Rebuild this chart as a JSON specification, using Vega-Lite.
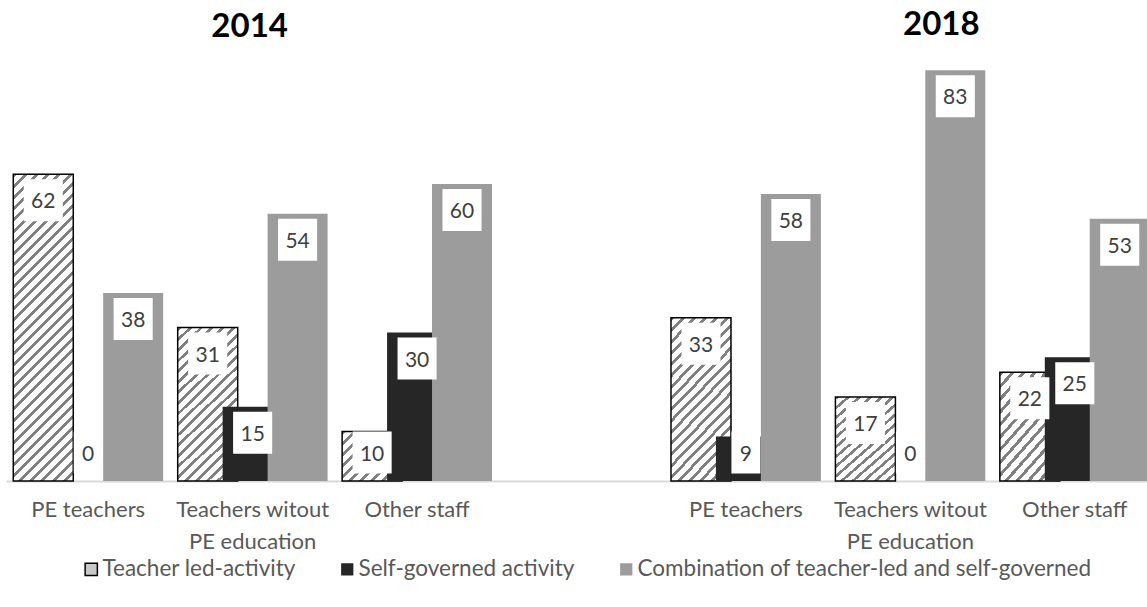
{
  "$schema": "https://vega.github.io/schema/vega-lite/v6.json",
  "autosize": {"type": "none"},
  "width": 1141,
  "height": 480,
  "padding": {"left": 6, "top": 1, "right": 0, "bottom": 126},
  "background": "white",
  "config": {"view": {"stroke": null}, "font": "Lato"},
  "data": {
    "values": [
      {"year": "2014", "group": "PE teachers", "series": "Teacher led-activity", "value": 62},
      {"year": "2014", "group": "PE teachers", "series": "Self-governed activity", "value": 0},
      {"year": "2014", "group": "PE teachers", "series": "Combination of teacher-led and self-governed", "value": 38},
      {"year": "2014", "group": "Teachers witout PE education", "series": "Teacher led-activity", "value": 31},
      {"year": "2014", "group": "Teachers witout PE education", "series": "Self-governed activity", "value": 15},
      {"year": "2014", "group": "Teachers witout PE education", "series": "Combination of teacher-led and self-governed", "value": 54},
      {"year": "2014", "group": "Other staff", "series": "Teacher led-activity", "value": 10},
      {"year": "2014", "group": "Other staff", "series": "Self-governed activity", "value": 30},
      {"year": "2014", "group": "Other staff", "series": "Combination of teacher-led and self-governed", "value": 60},
      {"year": "2018", "group": "PE teachers", "series": "Teacher led-activity", "value": 33},
      {"year": "2018", "group": "PE teachers", "series": "Self-governed activity", "value": 9},
      {"year": "2018", "group": "PE teachers", "series": "Combination of teacher-led and self-governed", "value": 58},
      {"year": "2018", "group": "Teachers witout PE education", "series": "Teacher led-activity", "value": 17},
      {"year": "2018", "group": "Teachers witout PE education", "series": "Self-governed activity", "value": 0},
      {"year": "2018", "group": "Teachers witout PE education", "series": "Combination of teacher-led and self-governed", "value": 83},
      {"year": "2018", "group": "Other staff", "series": "Teacher led-activity", "value": 22},
      {"year": "2018", "group": "Other staff", "series": "Self-governed activity", "value": 25},
      {"year": "2018", "group": "Other staff", "series": "Combination of teacher-led and self-governed", "value": 53}
    ]
  },
  "transform": [
    {"calculate": "datum.year + ' ' + datum.group", "as": "cat"},
    {"calculate": "max(datum.value, 11)", "as": "ly"}
  ],
  "layer": [
    {
      "mark": {"type": "bar", "width": 60, "strokeWidth": 1.5},
      "encoding": {
        "x": {
          "field": "cat",
          "type": "nominal",
          "sort": null,
          "scale": {
            "domain": ["2014 PE teachers", "2014 Teachers witout PE education", "2014 Other staff", " ", "2018 PE teachers", "2018 Teachers witout PE education", "2018 Other staff"],
            "range": [0, 1151],
            "paddingInner": 0.18,
            "paddingOuter": 0.09
          },
          "axis": {
            "title": null,
            "labelAngle": 0,
            "ticks": false,
            "domainColor": "#d9d9d9",
            "domainWidth": 2,
            "labelFont": "Lato",
            "labelFontSize": 22,
            "labelColor": "#595959",
            "labelPadding": 18,
            "labelLineHeight": 32,
            "labelOverlap": false,
            "labelLimit": 400,
            "labelExpr": "datum.value == ' ' ? '' : (indexof(datum.value, 'witout') > 0 ? ['Teachers witout', 'PE education'] : substring(datum.value, 5))"
          }
        },
        "xOffset": {
          "field": "series",
          "type": "nominal",
          "scale": {
            "domain": ["Teacher led-activity", "Self-governed activity", "Combination of teacher-led and self-governed"],
            "paddingInner": 0,
            "paddingOuter": 0
          }
        },
        "y": {
          "field": "value",
          "type": "quantitative",
          "scale": {"domain": [0, 97], "nice": false, "zero": true},
          "axis": null
        },
        "fill": {
          "condition": [
            {"test": "datum.series == 'Teacher led-activity' && datum.value == 62", "value": {"gradient": "linear", "x1": 0, "y1": 0, "x2": 0.2252, "y2": 1.1515, "stops": [
              {"offset": 0, "color": "#808080"}, {"offset": 0.0109, "color": "#808080"}, {"offset": 0.0109, "color": "#ffffff"}, {"offset": 0.0303, "color": "#ffffff"},
              {"offset": 0.0303, "color": "#808080"}, {"offset": 0.0412, "color": "#808080"}, {"offset": 0.0412, "color": "#ffffff"}, {"offset": 0.0606, "color": "#ffffff"},
              {"offset": 0.0606, "color": "#808080"}, {"offset": 0.0715, "color": "#808080"}, {"offset": 0.0715, "color": "#ffffff"}, {"offset": 0.0909, "color": "#ffffff"},
              {"offset": 0.0909, "color": "#808080"}, {"offset": 0.1018, "color": "#808080"}, {"offset": 0.1018, "color": "#ffffff"}, {"offset": 0.1212, "color": "#ffffff"},
              {"offset": 0.1212, "color": "#808080"}, {"offset": 0.1321, "color": "#808080"}, {"offset": 0.1321, "color": "#ffffff"}, {"offset": 0.1515, "color": "#ffffff"},
              {"offset": 0.1515, "color": "#808080"}, {"offset": 0.1624, "color": "#808080"}, {"offset": 0.1624, "color": "#ffffff"}, {"offset": 0.1818, "color": "#ffffff"},
              {"offset": 0.1818, "color": "#808080"}, {"offset": 0.1927, "color": "#808080"}, {"offset": 0.1927, "color": "#ffffff"}, {"offset": 0.2121, "color": "#ffffff"},
              {"offset": 0.2121, "color": "#808080"}, {"offset": 0.2230, "color": "#808080"}, {"offset": 0.2230, "color": "#ffffff"}, {"offset": 0.2424, "color": "#ffffff"},
              {"offset": 0.2424, "color": "#808080"}, {"offset": 0.2533, "color": "#808080"}, {"offset": 0.2533, "color": "#ffffff"}, {"offset": 0.2727, "color": "#ffffff"},
              {"offset": 0.2727, "color": "#808080"}, {"offset": 0.2836, "color": "#808080"}, {"offset": 0.2836, "color": "#ffffff"}, {"offset": 0.3030, "color": "#ffffff"},
              {"offset": 0.3030, "color": "#808080"}, {"offset": 0.3139, "color": "#808080"}, {"offset": 0.3139, "color": "#ffffff"}, {"offset": 0.3333, "color": "#ffffff"},
              {"offset": 0.3333, "color": "#808080"}, {"offset": 0.3442, "color": "#808080"}, {"offset": 0.3442, "color": "#ffffff"}, {"offset": 0.3636, "color": "#ffffff"},
              {"offset": 0.3636, "color": "#808080"}, {"offset": 0.3745, "color": "#808080"}, {"offset": 0.3745, "color": "#ffffff"}, {"offset": 0.3939, "color": "#ffffff"},
              {"offset": 0.3939, "color": "#808080"}, {"offset": 0.4048, "color": "#808080"}, {"offset": 0.4048, "color": "#ffffff"}, {"offset": 0.4242, "color": "#ffffff"},
              {"offset": 0.4242, "color": "#808080"}, {"offset": 0.4351, "color": "#808080"}, {"offset": 0.4351, "color": "#ffffff"}, {"offset": 0.4545, "color": "#ffffff"},
              {"offset": 0.4545, "color": "#808080"}, {"offset": 0.4654, "color": "#808080"}, {"offset": 0.4654, "color": "#ffffff"}, {"offset": 0.4848, "color": "#ffffff"},
              {"offset": 0.4848, "color": "#808080"}, {"offset": 0.4957, "color": "#808080"}, {"offset": 0.4957, "color": "#ffffff"}, {"offset": 0.5152, "color": "#ffffff"},
              {"offset": 0.5152, "color": "#808080"}, {"offset": 0.5261, "color": "#808080"}, {"offset": 0.5261, "color": "#ffffff"}, {"offset": 0.5455, "color": "#ffffff"},
              {"offset": 0.5455, "color": "#808080"}, {"offset": 0.5564, "color": "#808080"}, {"offset": 0.5564, "color": "#ffffff"}, {"offset": 0.5758, "color": "#ffffff"},
              {"offset": 0.5758, "color": "#808080"}, {"offset": 0.5867, "color": "#808080"}, {"offset": 0.5867, "color": "#ffffff"}, {"offset": 0.6061, "color": "#ffffff"},
              {"offset": 0.6061, "color": "#808080"}, {"offset": 0.6170, "color": "#808080"}, {"offset": 0.6170, "color": "#ffffff"}, {"offset": 0.6364, "color": "#ffffff"},
              {"offset": 0.6364, "color": "#808080"}, {"offset": 0.6473, "color": "#808080"}, {"offset": 0.6473, "color": "#ffffff"}, {"offset": 0.6667, "color": "#ffffff"},
              {"offset": 0.6667, "color": "#808080"}, {"offset": 0.6776, "color": "#808080"}, {"offset": 0.6776, "color": "#ffffff"}, {"offset": 0.6970, "color": "#ffffff"},
              {"offset": 0.6970, "color": "#808080"}, {"offset": 0.7079, "color": "#808080"}, {"offset": 0.7079, "color": "#ffffff"}, {"offset": 0.7273, "color": "#ffffff"},
              {"offset": 0.7273, "color": "#808080"}, {"offset": 0.7382, "color": "#808080"}, {"offset": 0.7382, "color": "#ffffff"}, {"offset": 0.7576, "color": "#ffffff"},
              {"offset": 0.7576, "color": "#808080"}, {"offset": 0.7685, "color": "#808080"}, {"offset": 0.7685, "color": "#ffffff"}, {"offset": 0.7879, "color": "#ffffff"},
              {"offset": 0.7879, "color": "#808080"}, {"offset": 0.7988, "color": "#808080"}, {"offset": 0.7988, "color": "#ffffff"}, {"offset": 0.8182, "color": "#ffffff"},
              {"offset": 0.8182, "color": "#808080"}, {"offset": 0.8291, "color": "#808080"}, {"offset": 0.8291, "color": "#ffffff"}, {"offset": 0.8485, "color": "#ffffff"},
              {"offset": 0.8485, "color": "#808080"}, {"offset": 0.8594, "color": "#808080"}, {"offset": 0.8594, "color": "#ffffff"}, {"offset": 0.8788, "color": "#ffffff"},
              {"offset": 0.8788, "color": "#808080"}, {"offset": 0.8897, "color": "#808080"}, {"offset": 0.8897, "color": "#ffffff"}, {"offset": 0.9091, "color": "#ffffff"},
              {"offset": 0.9091, "color": "#808080"}, {"offset": 0.9200, "color": "#808080"}, {"offset": 0.9200, "color": "#ffffff"}, {"offset": 0.9394, "color": "#ffffff"},
              {"offset": 0.9394, "color": "#808080"}, {"offset": 0.9503, "color": "#808080"}, {"offset": 0.9503, "color": "#ffffff"}, {"offset": 0.9697, "color": "#ffffff"},
              {"offset": 0.9697, "color": "#808080"}, {"offset": 0.9806, "color": "#808080"}, {"offset": 0.9806, "color": "#ffffff"}, {"offset": 1, "color": "#ffffff"}
            ]}},
            {"test": "datum.series == 'Teacher led-activity' && datum.value > 28", "value": {"gradient": "linear", "x1": 0, "y1": 0, "x2": 0.4579, "y2": 1.2059, "stops": [
              {"offset": 0, "color": "#808080"}, {"offset": 0.018, "color": "#808080"}, {"offset": 0.018, "color": "#ffffff"}, {"offset": 0.05, "color": "#ffffff"},
              {"offset": 0.05, "color": "#808080"}, {"offset": 0.068, "color": "#808080"}, {"offset": 0.068, "color": "#ffffff"}, {"offset": 0.1, "color": "#ffffff"},
              {"offset": 0.1, "color": "#808080"}, {"offset": 0.118, "color": "#808080"}, {"offset": 0.118, "color": "#ffffff"}, {"offset": 0.15, "color": "#ffffff"},
              {"offset": 0.15, "color": "#808080"}, {"offset": 0.168, "color": "#808080"}, {"offset": 0.168, "color": "#ffffff"}, {"offset": 0.2, "color": "#ffffff"},
              {"offset": 0.2, "color": "#808080"}, {"offset": 0.218, "color": "#808080"}, {"offset": 0.218, "color": "#ffffff"}, {"offset": 0.25, "color": "#ffffff"},
              {"offset": 0.25, "color": "#808080"}, {"offset": 0.268, "color": "#808080"}, {"offset": 0.268, "color": "#ffffff"}, {"offset": 0.3, "color": "#ffffff"},
              {"offset": 0.3, "color": "#808080"}, {"offset": 0.318, "color": "#808080"}, {"offset": 0.318, "color": "#ffffff"}, {"offset": 0.35, "color": "#ffffff"},
              {"offset": 0.35, "color": "#808080"}, {"offset": 0.368, "color": "#808080"}, {"offset": 0.368, "color": "#ffffff"}, {"offset": 0.4, "color": "#ffffff"},
              {"offset": 0.4, "color": "#808080"}, {"offset": 0.418, "color": "#808080"}, {"offset": 0.418, "color": "#ffffff"}, {"offset": 0.45, "color": "#ffffff"},
              {"offset": 0.45, "color": "#808080"}, {"offset": 0.468, "color": "#808080"}, {"offset": 0.468, "color": "#ffffff"}, {"offset": 0.5, "color": "#ffffff"},
              {"offset": 0.5, "color": "#808080"}, {"offset": 0.518, "color": "#808080"}, {"offset": 0.518, "color": "#ffffff"}, {"offset": 0.55, "color": "#ffffff"},
              {"offset": 0.55, "color": "#808080"}, {"offset": 0.568, "color": "#808080"}, {"offset": 0.568, "color": "#ffffff"}, {"offset": 0.6, "color": "#ffffff"},
              {"offset": 0.6, "color": "#808080"}, {"offset": 0.618, "color": "#808080"}, {"offset": 0.618, "color": "#ffffff"}, {"offset": 0.65, "color": "#ffffff"},
              {"offset": 0.65, "color": "#808080"}, {"offset": 0.668, "color": "#808080"}, {"offset": 0.668, "color": "#ffffff"}, {"offset": 0.7, "color": "#ffffff"},
              {"offset": 0.7, "color": "#808080"}, {"offset": 0.718, "color": "#808080"}, {"offset": 0.718, "color": "#ffffff"}, {"offset": 0.75, "color": "#ffffff"},
              {"offset": 0.75, "color": "#808080"}, {"offset": 0.768, "color": "#808080"}, {"offset": 0.768, "color": "#ffffff"}, {"offset": 0.8, "color": "#ffffff"},
              {"offset": 0.8, "color": "#808080"}, {"offset": 0.818, "color": "#808080"}, {"offset": 0.818, "color": "#ffffff"}, {"offset": 0.85, "color": "#ffffff"},
              {"offset": 0.85, "color": "#808080"}, {"offset": 0.868, "color": "#808080"}, {"offset": 0.868, "color": "#ffffff"}, {"offset": 0.9, "color": "#ffffff"},
              {"offset": 0.9, "color": "#808080"}, {"offset": 0.918, "color": "#808080"}, {"offset": 0.918, "color": "#ffffff"}, {"offset": 0.95, "color": "#ffffff"},
              {"offset": 0.95, "color": "#808080"}, {"offset": 0.968, "color": "#808080"}, {"offset": 0.968, "color": "#ffffff"}, {"offset": 1, "color": "#ffffff"}
            ]}},
            {"test": "datum.series == 'Teacher led-activity' && datum.value > 14", "value": {"gradient": "linear", "x1": 0, "y1": 0, "x2": 0.7272, "y2": 1.1696, "stops": [
              {"offset": 0, "color": "#808080"}, {"offset": 0.0257, "color": "#808080"}, {"offset": 0.0257, "color": "#ffffff"}, {"offset": 0.0714, "color": "#ffffff"},
              {"offset": 0.0714, "color": "#808080"}, {"offset": 0.0971, "color": "#808080"}, {"offset": 0.0971, "color": "#ffffff"}, {"offset": 0.1429, "color": "#ffffff"},
              {"offset": 0.1429, "color": "#808080"}, {"offset": 0.1686, "color": "#808080"}, {"offset": 0.1686, "color": "#ffffff"}, {"offset": 0.2143, "color": "#ffffff"},
              {"offset": 0.2143, "color": "#808080"}, {"offset": 0.2400, "color": "#808080"}, {"offset": 0.2400, "color": "#ffffff"}, {"offset": 0.2857, "color": "#ffffff"},
              {"offset": 0.2857, "color": "#808080"}, {"offset": 0.3114, "color": "#808080"}, {"offset": 0.3114, "color": "#ffffff"}, {"offset": 0.3571, "color": "#ffffff"},
              {"offset": 0.3571, "color": "#808080"}, {"offset": 0.3829, "color": "#808080"}, {"offset": 0.3829, "color": "#ffffff"}, {"offset": 0.4286, "color": "#ffffff"},
              {"offset": 0.4286, "color": "#808080"}, {"offset": 0.4543, "color": "#808080"}, {"offset": 0.4543, "color": "#ffffff"}, {"offset": 0.5, "color": "#ffffff"},
              {"offset": 0.5, "color": "#808080"}, {"offset": 0.5257, "color": "#808080"}, {"offset": 0.5257, "color": "#ffffff"}, {"offset": 0.5714, "color": "#ffffff"},
              {"offset": 0.5714, "color": "#808080"}, {"offset": 0.5971, "color": "#808080"}, {"offset": 0.5971, "color": "#ffffff"}, {"offset": 0.6429, "color": "#ffffff"},
              {"offset": 0.6429, "color": "#808080"}, {"offset": 0.6686, "color": "#808080"}, {"offset": 0.6686, "color": "#ffffff"}, {"offset": 0.7143, "color": "#ffffff"},
              {"offset": 0.7143, "color": "#808080"}, {"offset": 0.7400, "color": "#808080"}, {"offset": 0.7400, "color": "#ffffff"}, {"offset": 0.7857, "color": "#ffffff"},
              {"offset": 0.7857, "color": "#808080"}, {"offset": 0.8114, "color": "#808080"}, {"offset": 0.8114, "color": "#ffffff"}, {"offset": 0.8571, "color": "#ffffff"},
              {"offset": 0.8571, "color": "#808080"}, {"offset": 0.8829, "color": "#808080"}, {"offset": 0.8829, "color": "#ffffff"}, {"offset": 0.9286, "color": "#ffffff"},
              {"offset": 0.9286, "color": "#808080"}, {"offset": 0.9543, "color": "#808080"}, {"offset": 0.9543, "color": "#ffffff"}, {"offset": 1, "color": "#ffffff"}
            ]}},
            {"test": "datum.series == 'Teacher led-activity'", "value": {"gradient": "linear", "x1": 0, "y1": 0, "x2": 1.086, "y2": 0.8959, "stops": [
              {"offset": 0, "color": "#808080"}, {"offset": 0.036, "color": "#808080"}, {"offset": 0.036, "color": "#ffffff"}, {"offset": 0.1, "color": "#ffffff"},
              {"offset": 0.1, "color": "#808080"}, {"offset": 0.136, "color": "#808080"}, {"offset": 0.136, "color": "#ffffff"}, {"offset": 0.2, "color": "#ffffff"},
              {"offset": 0.2, "color": "#808080"}, {"offset": 0.236, "color": "#808080"}, {"offset": 0.236, "color": "#ffffff"}, {"offset": 0.3, "color": "#ffffff"},
              {"offset": 0.3, "color": "#808080"}, {"offset": 0.336, "color": "#808080"}, {"offset": 0.336, "color": "#ffffff"}, {"offset": 0.4, "color": "#ffffff"},
              {"offset": 0.4, "color": "#808080"}, {"offset": 0.436, "color": "#808080"}, {"offset": 0.436, "color": "#ffffff"}, {"offset": 0.5, "color": "#ffffff"},
              {"offset": 0.5, "color": "#808080"}, {"offset": 0.536, "color": "#808080"}, {"offset": 0.536, "color": "#ffffff"}, {"offset": 0.6, "color": "#ffffff"},
              {"offset": 0.6, "color": "#808080"}, {"offset": 0.636, "color": "#808080"}, {"offset": 0.636, "color": "#ffffff"}, {"offset": 0.7, "color": "#ffffff"},
              {"offset": 0.7, "color": "#808080"}, {"offset": 0.736, "color": "#808080"}, {"offset": 0.736, "color": "#ffffff"}, {"offset": 0.8, "color": "#ffffff"},
              {"offset": 0.8, "color": "#808080"}, {"offset": 0.836, "color": "#808080"}, {"offset": 0.836, "color": "#ffffff"}, {"offset": 0.9, "color": "#ffffff"},
              {"offset": 0.9, "color": "#808080"}, {"offset": 0.936, "color": "#808080"}, {"offset": 0.936, "color": "#ffffff"}, {"offset": 1, "color": "#ffffff"}
            ]}}
          ],
          "field": "series",
          "type": "nominal",
          "scale": {
            "domain": ["Teacher led-activity", "Self-governed activity", "Combination of teacher-led and self-governed"],
            "range": ["#c8c8c8", "#262626", "#9c9c9c"]
          },
          "legend": {
            "title": null,
            "orient": "none",
            "direction": "horizontal",
            "legendX": 74,
            "legendY": 557,
            "symbolType": "square",
            "symbolSize": 150,
            "symbolStrokeWidth": 1.5,
            "labelFont": "Lato",
            "labelFontSize": 22.5,
            "labelColor": "#595959",
            "labelOffset": 0,
            "columnPadding": 40,
            "labelLimit": 600
          }
        },
        "stroke": {
          "field": "series",
          "type": "nominal",
          "scale": {
            "domain": ["Teacher led-activity", "Self-governed activity", "Combination of teacher-led and self-governed"],
            "range": ["#000000", "transparent", "transparent"]
          },
          "legend": {
            "title": null,
            "orient": "none",
            "direction": "horizontal",
            "legendX": 74,
            "legendY": 557,
            "symbolType": "square",
            "symbolSize": 150,
            "symbolStrokeWidth": 1.5,
            "labelFont": "Lato",
            "labelFontSize": 22.5,
            "labelColor": "#595959",
            "labelOffset": 0,
            "columnPadding": 40,
            "labelLimit": 600
          }
        }
      }
    },
    {
      "mark": {"type": "point", "filled": true, "color": "white", "opacity": 1, "yOffset": 26, "size": 1764},
      "encoding": {
        "x": {"field": "cat", "type": "nominal"},
        "xOffset": {"field": "series", "type": "nominal"},
        "y": {"field": "ly", "type": "quantitative"},
        "shape": {
          "condition": {"test": "datum.value < 10", "value": "M-0.69,-1H0.69V1H-0.69Z"},
          "value": "M-0.93,-1H0.93V1H-0.93Z"
        }
      }
    },
    {
      "mark": {"type": "text", "yOffset": 28, "baseline": "middle", "align": "center", "font": "Lato", "fontSize": 21, "color": "#404040"},
      "encoding": {
        "x": {"field": "cat", "type": "nominal"},
        "xOffset": {"field": "series", "type": "nominal"},
        "y": {"field": "ly", "type": "quantitative"},
        "text": {"field": "value", "type": "quantitative"}
      }
    },
    {
      "data": {"values": [{"title": "2014"}]},
      "mark": {"type": "text", "baseline": "alphabetic", "align": "center", "font": "Lato", "fontWeight": "bold", "fontSize": 33, "color": "#000000", "dx": -3},
      "encoding": {
        "x": {"datum": "2014 Teachers witout PE education", "type": "nominal"},
        "y": {"datum": 89.7, "type": "quantitative"},
        "text": {"field": "title"}
      }
    },
    {
      "data": {"values": [{"title": "2018"}]},
      "mark": {"type": "text", "baseline": "alphabetic", "align": "center", "font": "Lato", "fontWeight": "bold", "fontSize": 33, "color": "#000000", "dx": 31},
      "encoding": {
        "x": {"datum": "2018 Teachers witout PE education", "type": "nominal"},
        "y": {"datum": 90.1, "type": "quantitative"},
        "text": {"field": "title"}
      }
    }
  ]
}
